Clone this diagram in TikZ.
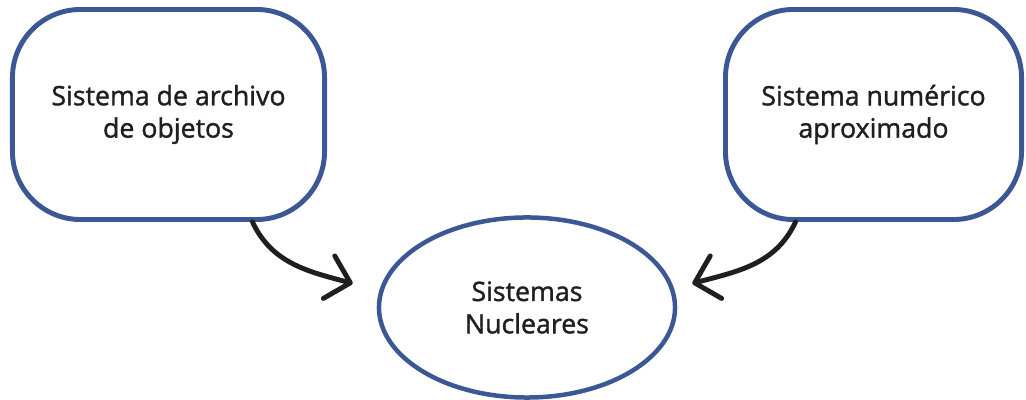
\documentclass[tikz,border=0pt]{standalone}
\usepackage{fontspec}
\setmainfont{Open Sans}
\newfontfamily\labelfont{Open Sans}[FakeBold=1.3]
\usetikzlibrary{positioning,arrows.meta,shapes.geometric,calc}
\definecolor{rim}{HTML}{3B5895}
\definecolor{ink}{HTML}{1F1F1F}

\begin{document}
\begin{tikzpicture}[x=0.025cm,y=0.025cm,
    every node/.style={font=\labelfont\fontsize{19}{23}\selectfont, text=ink, align=center},
    bubble/.style={draw=rim, line width=3.5pt, rounded corners=1.7cm, minimum height=5.25cm},
    core/.style={ellipse, draw=rim, line width=3.2pt, minimum width=7.4cm, minimum height=4.5cm},
    link/.style={draw=ink, line width=3.5pt, line cap=round,
      -{Straight Barb[length=5.5mm,width=11mm,line cap=round,line join=round]}}]
    \useasboundingbox (0,0) rectangle (1026,400);

    % left box — object file system
    \node[bubble, minimum width=7.8cm] (objetos) at (168.5,285.5) {Sistema de archivo\\de objetos};

    % right box — approximate number system
    \node[bubble, minimum width=7.4cm] (numerico) at (873.5,285.5) {Sistema numérico\\aproximado};

    % center — core systems
    \node[core] (nucleares) at (527,92.5) {Sistemas\\Nucleares};

    % arrows into the ellipse
    \coordinate (tipl) at ($(nucleares.west)+(-24,24)$);
    \coordinate (tipr) at ($(nucleares.east)+(15,24)$);
    \draw[link] ($(objetos.south)+(84,0)$) to[out=-65,in=165] (tipl);
    \draw[link] ($(numerico.south)+(-78,0)$) to[out=-115,in=15] (tipr);
\end{tikzpicture}
\end{document}
